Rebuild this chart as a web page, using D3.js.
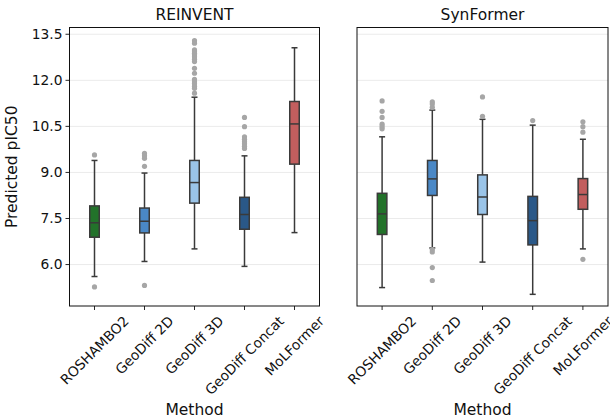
<!DOCTYPE html>
<html><head><meta charset="utf-8">
<script src="https://cdn.jsdelivr.net/npm/d3@7"></script>
<style>body{margin:0;background:#fff}svg{display:block}text{font-family:"DejaVu Sans",sans-serif;fill:#111}</style>
</head><body><svg id="c" width="610" height="419"></svg>
<script>
const methods = ["ROSHAMBO2","GeoDiff 2D","GeoDiff 3D","GeoDiff Concat","MoLFormer"];
const colors = ["#22722a","#4a88c6","#9ac4e8","#2a5888","#c25e5e"];
const yTicks = [6.0,7.5,9.0,10.5,12.0,13.5];
const panelTitles = ["REINVENT","SynFormer"];

// REINVENT
const reWhisLo = [5.61,6.10,6.51,5.94,7.04];
const reQ1     = [6.89,7.03,8.00,7.15,9.27];
const reMed    = [7.36,7.41,8.67,7.63,10.58];
const reQ3     = [7.91,7.84,9.39,8.19,11.31];
const reWhisHi = [9.39,8.98,11.45,9.54,13.06];
const reOut = [
  [9.57,5.27],
  [9.62,9.54,9.46,9.20,5.32],
  [13.29,13.21,12.99,12.93,12.88,12.83,12.77,12.69,12.61,12.39,12.23,12.03,11.95,11.90,11.81,11.74,11.58],
  [10.79,10.49,10.16,10.08,10.00,9.93,9.85,9.78],
  []
];
// SynFormer
const syWhisLo = [5.25,6.54,6.08,5.03,6.51];
const syQ1     = [6.98,8.25,7.63,6.64,7.80];
const syMed    = [7.65,8.79,8.20,7.43,8.28];
const syQ3     = [8.32,9.39,8.92,8.22,8.80];
const syWhisHi = [10.16,11.03,10.73,10.54,10.08];
const syOut = [
  [11.33,10.99,10.79,10.57,10.49,10.42],
  [11.30,11.23,11.12,6.49,6.41,5.90,5.48],
  [11.46,10.83],
  [10.69],
  [10.65,10.49,10.31,6.17]
];

const panels = [
  {title:panelTitles[0], lo:reWhisLo,q1:reQ1,med:reMed,q3:reQ3,hi:reWhisHi,out:reOut,x0:69.5,x1:319.5,yAxis:true},
  {title:panelTitles[1], lo:syWhisLo,q1:syQ1,med:syMed,q3:syQ3,hi:syWhisHi,out:syOut,x0:357,x1:608,yAxis:false}
];
const svg = d3.select("#c");
const yTop = 27.5, yBot = 306;
const y = d3.scaleLinear().domain([4.65,13.72]).range([yBot,yTop]);
const tickFS = 13.8, labelFS = 15.5, titleFS = 15.5;
const edge = "#3a3a3a";

panels.forEach(p => {
  const x = d3.scaleLinear().domain([-0.5,4.5]).range([p.x0,p.x1]);
  const g = svg.append("g");
  g.selectAll("line.grid").data(yTicks).join("line")
    .attr("x1",p.x0).attr("x2",p.x1).attr("y1",d=>y(d)).attr("y2",d=>y(d))
    .attr("stroke","#ebebeb").attr("stroke-width",1);
  const bw = x(0.095)-x(0), cw = x(0.06)-x(0);
  methods.forEach((m,i)=>{
    const cx = x(i);
    g.append("line").attr("x1",cx).attr("x2",cx).attr("y1",y(p.hi[i])).attr("y2",y(p.q3[i])).attr("stroke",edge).attr("stroke-width",1.5);
    g.append("line").attr("x1",cx).attr("x2",cx).attr("y1",y(p.q1[i])).attr("y2",y(p.lo[i])).attr("stroke",edge).attr("stroke-width",1.5);
    [p.hi[i],p.lo[i]].forEach(v=>g.append("line").attr("x1",cx-cw).attr("x2",cx+cw).attr("y1",y(v)).attr("y2",y(v)).attr("stroke",edge).attr("stroke-width",1.5));
    g.append("rect").attr("x",cx-bw).attr("width",2*bw).attr("y",y(p.q3[i])).attr("height",y(p.q1[i])-y(p.q3[i]))
      .attr("fill",colors[i]).attr("stroke",edge).attr("stroke-width",1.5);
    g.append("line").attr("x1",cx-bw).attr("x2",cx+bw).attr("y1",y(p.med[i])).attr("y2",y(p.med[i])).attr("stroke",edge).attr("stroke-width",1.5);
    g.selectAll(null).data(p.out[i]).join("circle").attr("cx",cx).attr("cy",d=>y(d)).attr("r",2.6).attr("fill","#a6a6a6");
  });
  g.append("rect").attr("x",p.x0).attr("y",yTop).attr("width",p.x1-p.x0).attr("height",yBot-yTop)
    .attr("fill","none").attr("stroke","#111").attr("stroke-width",1);
  methods.forEach((m,i)=>{
    const cx = x(i);
    g.append("line").attr("x1",cx).attr("x2",cx).attr("y1",yBot).attr("y2",yBot+4).attr("stroke","#111").attr("stroke-width",0.9);
    const t = g.append("text").text(m).attr("font-size",tickFS).attr("text-anchor","middle").attr("dy","0.346em");
    const w = t.node().getComputedTextLength();
    const h = tickFS*1.164;
    const half = (w+h)*Math.SQRT1_2/2;
    t.attr("transform",`translate(${cx},${yBot+3.5+3.5+half}) rotate(-45)`);
  });
  if (p.yAxis) {
    yTicks.forEach(v=>{
      g.append("line").attr("x1",p.x0-4).attr("x2",p.x0).attr("y1",y(v)).attr("y2",y(v)).attr("stroke","#111").attr("stroke-width",0.9);
      g.append("text").text(d3.format(".1f")(v)).attr("x",p.x0-7).attr("y",y(v)).attr("dy","0.35em")
        .attr("text-anchor","end").attr("font-size",tickFS);
    });
  }
  svg.append("text").text(p.title).attr("x",(p.x0+p.x1)/2).attr("y",20).attr("text-anchor","middle").attr("font-size",titleFS);
  svg.append("text").text("Method").attr("x",(p.x0+p.x1)/2).attr("y",415).attr("text-anchor","middle").attr("font-size",labelFS);
});
svg.append("text").text("Predicted pIC50").attr("transform",`translate(17,${(yTop+yBot)/2}) rotate(-90)`)
  .attr("text-anchor","middle").attr("font-size",labelFS);
</script></body></html>
